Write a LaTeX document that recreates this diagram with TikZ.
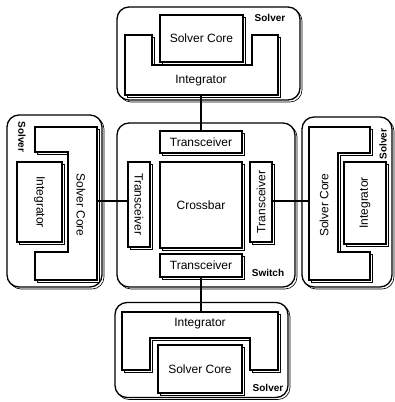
\documentclass[tikz,border=0pt]{standalone}
\usepackage{fontspec}
\setmainfont{Liberation Sans}
\usetikzlibrary{shadows}

\begin{document}
\begin{tikzpicture}[x=1pt,y=-1pt,
    every node/.style={font=\fontsize{12}{14}\selectfont},
    shad/.style={drop shadow={shadow xshift=2pt,shadow yshift=-2pt,fill=white,draw=black,line width=0.6pt,opacity=1}},
    unit/.style={draw,line width=1.3pt,rounded corners=12pt,fill=white,shad,inner sep=0pt},
    block/.style={draw,line width=1.3pt,fill=white,shad,inner sep=0pt},
    tag/.style={font=\fontsize{10}{12}\selectfont\bfseries,inner sep=0pt},
    link/.style={line width=1.3pt}]
    \useasboundingbox (0,0) rectangle (395,402);
    % top solver
    \node[unit,minimum width=183pt,minimum height=93pt] (topsolver) at (208.5,53.5) {};
    \node[tag] (toptag) at (270,18) {Solver};
    \draw[block] (125,35) -- (152,35) -- (152,65) -- (252,65) -- (252,35) -- (278,35) -- (278,95) -- (125,95) -- cycle;
    \node (topint) at (201,81) {Integrator};
    \node[block,minimum width=83pt,minimum height=47pt] (topcore) at (201.5,38.5) {Solver Core};
    \coordinate (topport) at (201,95);
    % switch
    \node[unit,minimum width=178pt,minimum height=164pt] (switch) at (206,205) {};
    \node[tag] (switchtag) at (268,273) {Switch};
    \node[block,minimum width=82pt,minimum height=22pt] (topxcvr) at (201,142) {Transceiver};
    \node[block,minimum width=82pt,minimum height=86pt] (xbar) at (201,205) {Crossbar};
    \node[block,minimum width=22pt,minimum height=85pt] (leftxcvr) at (139,204.5) {\rotatebox{-90}{Transceiver}};
    \node[block,minimum width=22pt,minimum height=80pt] (rightxcvr) at (261,202) {\rotatebox{90}{Transceiver}};
    \node[block,minimum width=82pt,minimum height=23pt] (botxcvr) at (201,265.5) {Transceiver};
    % left solver
    \node[unit,minimum width=95pt,minimum height=172pt] (leftsolver) at (54.5,201) {};
    \node[tag] (lefttag) at (22,137) {\rotatebox{-90}{Solver}};
    \draw[block] (97,127) -- (35,127) -- (35,152) -- (68,152) -- (68,252) -- (35,252) -- (35,280) -- (97,280) -- cycle;
    \node (leftcore) at (81,205) {\rotatebox{-90}{Solver Core}};
    \node[block,minimum width=45pt,minimum height=80pt] (leftint) at (39.5,202) {\rotatebox{-90}{Integrator}};
    \coordinate (leftport) at (97,201);
    % right solver
    \node[unit,minimum width=90pt,minimum height=170pt] (rightsolver) at (347,202) {};
    \node[tag] (righttag) at (383,144) {\rotatebox{90}{Solver}};
    \draw[block] (309,127) -- (370,127) -- (370,153) -- (338,153) -- (338,252) -- (370,252) -- (370,280) -- (309,280) -- cycle;
    \node (rightcore) at (324,205) {\rotatebox{90}{Solver Core}};
    \node[block,minimum width=42pt,minimum height=82pt] (rightint) at (365,203) {\rotatebox{90}{Integrator}};
    \coordinate (rightport) at (309,201);
    % bottom solver
    \node[unit,minimum width=173pt,minimum height=95pt] (botsolver) at (201.5,350) {};
    \node[tag] (bottag) at (268,388) {Solver};
    \draw[block] (122,312) -- (278,312) -- (278,370) -- (250,370) -- (250,338) -- (150,338) -- (150,370) -- (122,370) -- cycle;
    \node (botint) at (200,324) {Integrator};
    \node[block,minimum width=84pt,minimum height=48pt] (botcore) at (200,369) {Solver Core};
    \coordinate (botport) at (201,312);
    % links
    \draw[link] (topport) -- (topport |- topxcvr.north);
    \draw[link] (botxcvr.south) -- (botport);
    \draw[link] (leftport) -- (leftport -| leftxcvr.west);
    \draw[link] (rightxcvr.east |- rightport) -- (rightport);
\end{tikzpicture}
\end{document}
